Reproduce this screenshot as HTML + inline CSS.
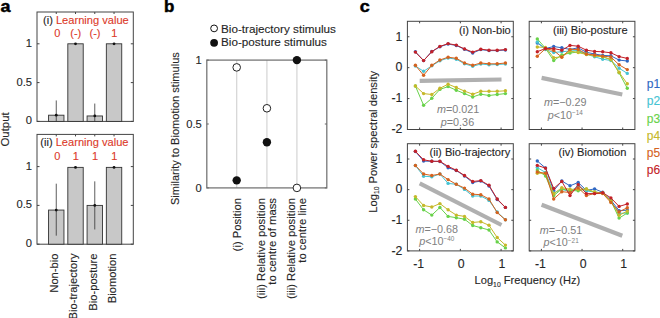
<!DOCTYPE html>
<html><head><meta charset="utf-8"><style>
html,body{margin:0;padding:0;background:#fff;}
svg{display:block;font-family:"Liberation Sans", sans-serif;}
</style></head><body>
<svg width="660" height="318" viewBox="0 0 660 318">
<rect width="660" height="318" fill="#fff"/>
<text transform="translate(0.6,12.2) scale(1.12,1)" font-size="16" font-weight="bold" fill="#000" stroke="#000" stroke-width="0.45">a</text>
<text transform="translate(164.0,11.8) scale(1.02,1)" font-size="16.6" font-weight="bold" fill="#000" stroke="#000" stroke-width="0.45">b</text>
<text transform="translate(359.8,12.0) scale(1.12,1)" font-size="16" font-weight="bold" fill="#000" stroke="#000" stroke-width="0.45">c</text>
<rect x="37" y="12" width="96.30000000000001" height="109.4" fill="none" stroke="#444" stroke-width="1"/>
<line x1="37" y1="121.4" x2="39.5" y2="121.4" stroke="#444" stroke-width="1" />
<line x1="133.3" y1="121.4" x2="130.8" y2="121.4" stroke="#444" stroke-width="1" />
<line x1="37" y1="82.6" x2="39.5" y2="82.6" stroke="#444" stroke-width="1" />
<line x1="133.3" y1="82.6" x2="130.8" y2="82.6" stroke="#444" stroke-width="1" />
<line x1="37" y1="43.8" x2="39.5" y2="43.8" stroke="#444" stroke-width="1" />
<line x1="133.3" y1="43.8" x2="130.8" y2="43.8" stroke="#444" stroke-width="1" />
<text x="32" y="124.4" font-size="11.2" text-anchor="end" fill="#262626" stroke="#262626" stroke-width="0.12" font-weight="normal" font-style="normal" >0</text>
<text x="32" y="85.6" font-size="11.2" text-anchor="end" fill="#262626" stroke="#262626" stroke-width="0.12" font-weight="normal" font-style="normal" >0.5</text>
<text x="32" y="46.8" font-size="11.2" text-anchor="end" fill="#262626" stroke="#262626" stroke-width="0.12" font-weight="normal" font-style="normal" >1</text>
<line x1="56.260000000000005" y1="12" x2="56.260000000000005" y2="14" stroke="#444" stroke-width="1" />
<rect x="48.56" y="115.19200000000001" width="15.4" height="6.207999999999998" fill="#c8c8c8" stroke="#333" stroke-width="0.9"/>
<line x1="56.260000000000005" y1="121.4" x2="56.260000000000005" y2="100.44800000000001" stroke="#333" stroke-width="0.8" />
<circle cx="56.260000000000005" cy="115.19200000000001" r="1.4" fill="#111" stroke="none" stroke-width="1"/>
<line x1="75.52000000000001" y1="12" x2="75.52000000000001" y2="14" stroke="#444" stroke-width="1" />
<rect x="67.82000000000001" y="43.8" width="15.4" height="77.60000000000001" fill="#c8c8c8" stroke="#333" stroke-width="0.9"/>
<circle cx="75.52000000000001" cy="43.8" r="1.4" fill="#111" stroke="none" stroke-width="1"/>
<line x1="94.78" y1="12" x2="94.78" y2="14" stroke="#444" stroke-width="1" />
<rect x="87.08" y="115.968" width="15.4" height="5.432000000000002" fill="#c8c8c8" stroke="#333" stroke-width="0.9"/>
<line x1="94.78" y1="121.4" x2="94.78" y2="103.552" stroke="#333" stroke-width="0.8" />
<circle cx="94.78" cy="115.968" r="1.4" fill="#111" stroke="none" stroke-width="1"/>
<line x1="114.04" y1="12" x2="114.04" y2="14" stroke="#444" stroke-width="1" />
<rect x="106.34" y="43.8" width="15.4" height="77.60000000000001" fill="#c8c8c8" stroke="#333" stroke-width="0.9"/>
<circle cx="114.04" cy="43.8" r="1.4" fill="#111" stroke="none" stroke-width="1"/>
<text x="43.0" y="24" font-size="11.1" fill="#262626" stroke="#262626" stroke-width="0.12">(i) <tspan fill="#dc3b2b" stroke="#dc3b2b">Learning value</tspan></text>
<text x="57.260000000000005" y="37.2" font-size="11" text-anchor="middle" fill="#dc3b2b" stroke="#dc3b2b" stroke-width="0.12" font-weight="normal" font-style="normal" >0</text>
<text x="75.72000000000001" y="37.2" font-size="11" text-anchor="middle" fill="#dc3b2b" stroke="#dc3b2b" stroke-width="0.12" font-weight="normal" font-style="normal" >(-)</text>
<text x="94.98" y="37.2" font-size="11" text-anchor="middle" fill="#dc3b2b" stroke="#dc3b2b" stroke-width="0.12" font-weight="normal" font-style="normal" >(-)</text>
<text x="114.24000000000001" y="37.2" font-size="11" text-anchor="middle" fill="#dc3b2b" stroke="#dc3b2b" stroke-width="0.12" font-weight="normal" font-style="normal" >1</text>
<rect x="37" y="134.4" width="96.30000000000001" height="109.79999999999998" fill="none" stroke="#444" stroke-width="1"/>
<line x1="37" y1="244.2" x2="39.5" y2="244.2" stroke="#444" stroke-width="1" />
<line x1="133.3" y1="244.2" x2="130.8" y2="244.2" stroke="#444" stroke-width="1" />
<line x1="37" y1="205.39999999999998" x2="39.5" y2="205.39999999999998" stroke="#444" stroke-width="1" />
<line x1="133.3" y1="205.39999999999998" x2="130.8" y2="205.39999999999998" stroke="#444" stroke-width="1" />
<line x1="37" y1="166.6" x2="39.5" y2="166.6" stroke="#444" stroke-width="1" />
<line x1="133.3" y1="166.6" x2="130.8" y2="166.6" stroke="#444" stroke-width="1" />
<text x="32" y="247.2" font-size="11.2" text-anchor="end" fill="#262626" stroke="#262626" stroke-width="0.12" font-weight="normal" font-style="normal" >0</text>
<text x="32" y="208.39999999999998" font-size="11.2" text-anchor="end" fill="#262626" stroke="#262626" stroke-width="0.12" font-weight="normal" font-style="normal" >0.5</text>
<text x="32" y="169.6" font-size="11.2" text-anchor="end" fill="#262626" stroke="#262626" stroke-width="0.12" font-weight="normal" font-style="normal" >1</text>
<line x1="56.260000000000005" y1="134.4" x2="56.260000000000005" y2="136.4" stroke="#444" stroke-width="1" />
<rect x="48.56" y="210.05599999999998" width="15.4" height="34.144000000000005" fill="#c8c8c8" stroke="#333" stroke-width="0.9"/>
<line x1="56.260000000000005" y1="235.664" x2="56.260000000000005" y2="183.672" stroke="#333" stroke-width="0.8" />
<circle cx="56.260000000000005" cy="210.05599999999998" r="1.4" fill="#111" stroke="none" stroke-width="1"/>
<line x1="75.52000000000001" y1="134.4" x2="75.52000000000001" y2="136.4" stroke="#444" stroke-width="1" />
<rect x="67.82000000000001" y="167.37599999999998" width="15.4" height="76.82400000000001" fill="#c8c8c8" stroke="#333" stroke-width="0.9"/>
<circle cx="75.52000000000001" cy="167.37599999999998" r="1.4" fill="#111" stroke="none" stroke-width="1"/>
<line x1="94.78" y1="134.4" x2="94.78" y2="136.4" stroke="#444" stroke-width="1" />
<rect x="87.08" y="205.39999999999998" width="15.4" height="38.80000000000001" fill="#c8c8c8" stroke="#333" stroke-width="0.9"/>
<line x1="94.78" y1="229.456" x2="94.78" y2="181.344" stroke="#333" stroke-width="0.8" />
<circle cx="94.78" cy="205.39999999999998" r="1.4" fill="#111" stroke="none" stroke-width="1"/>
<line x1="114.04" y1="134.4" x2="114.04" y2="136.4" stroke="#444" stroke-width="1" />
<rect x="106.34" y="167.37599999999998" width="15.4" height="76.82400000000001" fill="#c8c8c8" stroke="#333" stroke-width="0.9"/>
<circle cx="114.04" cy="167.37599999999998" r="1.4" fill="#111" stroke="none" stroke-width="1"/>
<text x="40.3" y="146.4" font-size="11.1" fill="#262626" stroke="#262626" stroke-width="0.12">(ii) <tspan fill="#dc3b2b" stroke="#dc3b2b">Learning value</tspan></text>
<text x="57.260000000000005" y="159.6" font-size="11" text-anchor="middle" fill="#dc3b2b" stroke="#dc3b2b" stroke-width="0.12" font-weight="normal" font-style="normal" >0</text>
<text x="75.72000000000001" y="159.6" font-size="11" text-anchor="middle" fill="#dc3b2b" stroke="#dc3b2b" stroke-width="0.12" font-weight="normal" font-style="normal" >1</text>
<text x="94.98" y="159.6" font-size="11" text-anchor="middle" fill="#dc3b2b" stroke="#dc3b2b" stroke-width="0.12" font-weight="normal" font-style="normal" >1</text>
<text x="114.24000000000001" y="159.6" font-size="11" text-anchor="middle" fill="#dc3b2b" stroke="#dc3b2b" stroke-width="0.12" font-weight="normal" font-style="normal" >1</text>
<text transform="translate(8.9,129.4) rotate(-90)" font-size="11.4" text-anchor="middle" fill="#262626" stroke="#262626" stroke-width="0.12">Output</text>
<text transform="translate(58.06,253.5) rotate(-90)" font-size="11.2" text-anchor="end" fill="#262626" stroke="#262626" stroke-width="0.12">Non-bio</text>
<text transform="translate(77.32000000000001,253.5) rotate(-90)" font-size="11.2" text-anchor="end" fill="#262626" stroke="#262626" stroke-width="0.12">Bio-trajectory</text>
<text transform="translate(96.58,253.5) rotate(-90)" font-size="11.2" text-anchor="end" fill="#262626" stroke="#262626" stroke-width="0.12">Bio-posture</text>
<text transform="translate(115.84,253.5) rotate(-90)" font-size="11.2" text-anchor="end" fill="#262626" stroke="#262626" stroke-width="0.12">Biomotion</text>
<circle cx="214.1" cy="28.4" r="3.4" fill="#fff" stroke="#111" stroke-width="1"/>
<text x="221" y="32.7" font-size="11.7" text-anchor="start" fill="#262626" stroke="#262626" stroke-width="0.12" font-weight="normal" font-style="normal" >Bio-trajectory stimulus</text>
<circle cx="214.1" cy="42.8" r="3.9" fill="#111" stroke="none" stroke-width="1"/>
<text x="221" y="46.4" font-size="11.7" text-anchor="start" fill="#262626" stroke="#262626" stroke-width="0.12" font-weight="normal" font-style="normal" >Bio-posture stimulus</text>
<line x1="236.7" y1="60.1" x2="236.7" y2="187.9" stroke="#d4d4d4" stroke-width="1.2" />
<line x1="266.9" y1="60.1" x2="266.9" y2="187.9" stroke="#d4d4d4" stroke-width="1.2" />
<line x1="296.9" y1="60.1" x2="296.9" y2="187.9" stroke="#d4d4d4" stroke-width="1.2" />
<rect x="206.8" y="60.1" width="120.0" height="127.80000000000001" fill="none" stroke="#777" stroke-width="1.3"/>
<text x="201.8" y="191.70000000000002" font-size="11.2" text-anchor="end" fill="#262626" stroke="#262626" stroke-width="0.12" font-weight="normal" font-style="normal" >0</text>
<line x1="206.8" y1="187.9" x2="208.8" y2="187.9" stroke="#666" stroke-width="1" />
<line x1="326.8" y1="187.9" x2="324.8" y2="187.9" stroke="#666" stroke-width="1" />
<text x="201.8" y="127.8" font-size="11.2" text-anchor="end" fill="#262626" stroke="#262626" stroke-width="0.12" font-weight="normal" font-style="normal" >0.5</text>
<line x1="206.8" y1="124.0" x2="208.8" y2="124.0" stroke="#666" stroke-width="1" />
<line x1="326.8" y1="124.0" x2="324.8" y2="124.0" stroke="#666" stroke-width="1" />
<text x="201.8" y="63.89999999999999" font-size="11.2" text-anchor="end" fill="#262626" stroke="#262626" stroke-width="0.12" font-weight="normal" font-style="normal" >1</text>
<line x1="206.8" y1="60.099999999999994" x2="208.8" y2="60.099999999999994" stroke="#666" stroke-width="1" />
<line x1="326.8" y1="60.099999999999994" x2="324.8" y2="60.099999999999994" stroke="#666" stroke-width="1" />
<circle cx="236.7" cy="67.3846" r="3.8" fill="#fff" stroke="#222" stroke-width="1"/>
<circle cx="236.7" cy="180.3598" r="4.2" fill="#111" stroke="none" stroke-width="1"/>
<circle cx="266.9" cy="108.28059999999999" r="3.8" fill="#fff" stroke="#222" stroke-width="1"/>
<circle cx="266.9" cy="142.2754" r="4.2" fill="#111" stroke="none" stroke-width="1"/>
<circle cx="296.9" cy="60.099999999999994" r="4.2" fill="#111" stroke="none" stroke-width="1"/>
<circle cx="296.9" cy="187.9" r="3.8" fill="#fff" stroke="#222" stroke-width="1"/>
<text transform="translate(178.6,128.6) rotate(-90)" font-size="11.05" text-anchor="middle" fill="#262626" stroke="#262626" stroke-width="0.12">Similarity to Biomotion stimulus</text>
<text transform="translate(240.6,198) rotate(-90)" font-size="11.3" text-anchor="end" fill="#262626" stroke="#262626" stroke-width="0.12">(i) Position</text>
<text transform="translate(265.2,198) rotate(-90)" font-size="11.3" text-anchor="end" fill="#262626" stroke="#262626" stroke-width="0.12">(iii) Relative position</text>
<text transform="translate(275.6,198) rotate(-90)" font-size="11.3" text-anchor="end" fill="#262626" stroke="#262626" stroke-width="0.12">to centre of mass</text>
<text transform="translate(295.2,198) rotate(-90)" font-size="11.3" text-anchor="end" fill="#262626" stroke="#262626" stroke-width="0.12">(iii) Relative position</text>
<text transform="translate(305.6,198) rotate(-90)" font-size="11.3" text-anchor="end" fill="#262626" stroke="#262626" stroke-width="0.12">to centre line</text>
<rect x="407.4" y="21.3" width="105.89999999999998" height="108.2" fill="none" stroke="#444" stroke-width="1"/>
<line x1="419.61923076923074" y1="129.5" x2="419.61923076923074" y2="127.5" stroke="#444" stroke-width="1" />
<line x1="419.61923076923074" y1="21.3" x2="419.61923076923074" y2="23.3" stroke="#444" stroke-width="1" />
<line x1="460.34999999999997" y1="129.5" x2="460.34999999999997" y2="127.5" stroke="#444" stroke-width="1" />
<line x1="460.34999999999997" y1="21.3" x2="460.34999999999997" y2="23.3" stroke="#444" stroke-width="1" />
<line x1="501.0807692307692" y1="129.5" x2="501.0807692307692" y2="127.5" stroke="#444" stroke-width="1" />
<line x1="501.0807692307692" y1="21.3" x2="501.0807692307692" y2="23.3" stroke="#444" stroke-width="1" />
<line x1="407.4" y1="129.5" x2="409.4" y2="129.5" stroke="#444" stroke-width="1" />
<line x1="513.3" y1="129.5" x2="511.29999999999995" y2="129.5" stroke="#444" stroke-width="1" />
<text x="402.4" y="133.25" font-size="12.3" text-anchor="end" fill="#262626" stroke="#262626" stroke-width="0.12" font-weight="normal" font-style="normal" >-2</text>
<line x1="407.4" y1="98.58571428571429" x2="409.4" y2="98.58571428571429" stroke="#444" stroke-width="1" />
<line x1="513.3" y1="98.58571428571429" x2="511.29999999999995" y2="98.58571428571429" stroke="#444" stroke-width="1" />
<text x="402.4" y="102.33571428571429" font-size="12.3" text-anchor="end" fill="#262626" stroke="#262626" stroke-width="0.12" font-weight="normal" font-style="normal" >-1</text>
<line x1="407.4" y1="67.67142857142858" x2="409.4" y2="67.67142857142858" stroke="#444" stroke-width="1" />
<line x1="513.3" y1="67.67142857142858" x2="511.29999999999995" y2="67.67142857142858" stroke="#444" stroke-width="1" />
<text x="402.4" y="71.42142857142858" font-size="12.3" text-anchor="end" fill="#262626" stroke="#262626" stroke-width="0.12" font-weight="normal" font-style="normal" >0</text>
<line x1="407.4" y1="36.75714285714287" x2="409.4" y2="36.75714285714287" stroke="#444" stroke-width="1" />
<line x1="513.3" y1="36.75714285714287" x2="511.29999999999995" y2="36.75714285714287" stroke="#444" stroke-width="1" />
<text x="402.4" y="40.50714285714287" font-size="12.3" text-anchor="end" fill="#262626" stroke="#262626" stroke-width="0.12" font-weight="normal" font-style="normal" >1</text>
<text x="459" y="33.9" font-size="11.1" text-anchor="start" fill="#262626" stroke="#262626" stroke-width="0.12" font-weight="normal" font-style="normal" >(i) Non-bio</text>
<line x1="419.7" y1="80.8" x2="501.5" y2="79.5" stroke="#b0b0b0" stroke-width="4.2" />
<text x="437" y="113.3" font-size="10.8" fill="#808080"><tspan font-style="italic">m</tspan>=0.021</text>
<text x="440.8" y="125.6" font-size="10.8" fill="#808080"><tspan font-style="italic">p</tspan>=0.36<tspan font-size="6.4" dy="-3.6"></tspan></text>
<polyline points="415.4,51.8 423.6,60.6 431.8,51.5 439.9,46.8 448.1,44.0 456.3,45.5 464.5,49.3 472.7,53.0 480.8,49.6 489.0,50.6 497.2,50.6 505.4,50.0" fill="none" stroke="#2f67c3" stroke-width="1"/>
<circle cx="415.4" cy="51.8" r="1.7" fill="#2f67c3" stroke="none" stroke-width="1"/>
<circle cx="423.6" cy="60.6" r="1.7" fill="#2f67c3" stroke="none" stroke-width="1"/>
<circle cx="431.8" cy="51.5" r="1.7" fill="#2f67c3" stroke="none" stroke-width="1"/>
<circle cx="439.9" cy="46.8" r="1.7" fill="#2f67c3" stroke="none" stroke-width="1"/>
<circle cx="448.1" cy="44.0" r="1.7" fill="#2f67c3" stroke="none" stroke-width="1"/>
<circle cx="456.3" cy="45.5" r="1.7" fill="#2f67c3" stroke="none" stroke-width="1"/>
<circle cx="464.5" cy="49.3" r="1.7" fill="#2f67c3" stroke="none" stroke-width="1"/>
<circle cx="472.7" cy="53.0" r="1.7" fill="#2f67c3" stroke="none" stroke-width="1"/>
<circle cx="480.8" cy="49.6" r="1.7" fill="#2f67c3" stroke="none" stroke-width="1"/>
<circle cx="489.0" cy="50.6" r="1.7" fill="#2f67c3" stroke="none" stroke-width="1"/>
<circle cx="497.2" cy="50.6" r="1.7" fill="#2f67c3" stroke="none" stroke-width="1"/>
<circle cx="505.4" cy="50.0" r="1.7" fill="#2f67c3" stroke="none" stroke-width="1"/>
<polyline points="415.4,66.0 423.6,71.3 431.8,65.8 439.9,60.8 448.1,58.0 456.3,59.2 464.5,63.8 472.7,66.3 480.8,64.0 489.0,64.8 497.2,64.5 505.4,64.0" fill="none" stroke="#45c3d3" stroke-width="1"/>
<circle cx="415.4" cy="66.0" r="1.7" fill="#45c3d3" stroke="none" stroke-width="1"/>
<circle cx="423.6" cy="71.3" r="1.7" fill="#45c3d3" stroke="none" stroke-width="1"/>
<circle cx="431.8" cy="65.8" r="1.7" fill="#45c3d3" stroke="none" stroke-width="1"/>
<circle cx="439.9" cy="60.8" r="1.7" fill="#45c3d3" stroke="none" stroke-width="1"/>
<circle cx="448.1" cy="58.0" r="1.7" fill="#45c3d3" stroke="none" stroke-width="1"/>
<circle cx="456.3" cy="59.2" r="1.7" fill="#45c3d3" stroke="none" stroke-width="1"/>
<circle cx="464.5" cy="63.8" r="1.7" fill="#45c3d3" stroke="none" stroke-width="1"/>
<circle cx="472.7" cy="66.3" r="1.7" fill="#45c3d3" stroke="none" stroke-width="1"/>
<circle cx="480.8" cy="64.0" r="1.7" fill="#45c3d3" stroke="none" stroke-width="1"/>
<circle cx="489.0" cy="64.8" r="1.7" fill="#45c3d3" stroke="none" stroke-width="1"/>
<circle cx="497.2" cy="64.5" r="1.7" fill="#45c3d3" stroke="none" stroke-width="1"/>
<circle cx="505.4" cy="64.0" r="1.7" fill="#45c3d3" stroke="none" stroke-width="1"/>
<polyline points="415.4,86.0 423.6,105.3 431.8,98.3 439.9,89.4 448.1,86.6 456.3,90.2 464.5,93.6 472.7,97.0 480.8,94.2 489.0,95.5 497.2,94.5 505.4,93.6" fill="none" stroke="#68d24a" stroke-width="1"/>
<circle cx="415.4" cy="86.0" r="1.7" fill="#68d24a" stroke="none" stroke-width="1"/>
<circle cx="423.6" cy="105.3" r="1.7" fill="#68d24a" stroke="none" stroke-width="1"/>
<circle cx="431.8" cy="98.3" r="1.7" fill="#68d24a" stroke="none" stroke-width="1"/>
<circle cx="439.9" cy="89.4" r="1.7" fill="#68d24a" stroke="none" stroke-width="1"/>
<circle cx="448.1" cy="86.6" r="1.7" fill="#68d24a" stroke="none" stroke-width="1"/>
<circle cx="456.3" cy="90.2" r="1.7" fill="#68d24a" stroke="none" stroke-width="1"/>
<circle cx="464.5" cy="93.6" r="1.7" fill="#68d24a" stroke="none" stroke-width="1"/>
<circle cx="472.7" cy="97.0" r="1.7" fill="#68d24a" stroke="none" stroke-width="1"/>
<circle cx="480.8" cy="94.2" r="1.7" fill="#68d24a" stroke="none" stroke-width="1"/>
<circle cx="489.0" cy="95.5" r="1.7" fill="#68d24a" stroke="none" stroke-width="1"/>
<circle cx="497.2" cy="94.5" r="1.7" fill="#68d24a" stroke="none" stroke-width="1"/>
<circle cx="505.4" cy="93.6" r="1.7" fill="#68d24a" stroke="none" stroke-width="1"/>
<polyline points="415.4,86.0 423.6,93.6 431.8,94.5 439.9,88.3 448.1,84.2 456.3,87.5 464.5,91.1 472.7,94.2 480.8,91.3 489.0,91.3 497.2,91.3 505.4,90.8" fill="none" stroke="#c6b82a" stroke-width="1"/>
<circle cx="415.4" cy="86.0" r="1.7" fill="#c6b82a" stroke="none" stroke-width="1"/>
<circle cx="423.6" cy="93.6" r="1.7" fill="#c6b82a" stroke="none" stroke-width="1"/>
<circle cx="431.8" cy="94.5" r="1.7" fill="#c6b82a" stroke="none" stroke-width="1"/>
<circle cx="439.9" cy="88.3" r="1.7" fill="#c6b82a" stroke="none" stroke-width="1"/>
<circle cx="448.1" cy="84.2" r="1.7" fill="#c6b82a" stroke="none" stroke-width="1"/>
<circle cx="456.3" cy="87.5" r="1.7" fill="#c6b82a" stroke="none" stroke-width="1"/>
<circle cx="464.5" cy="91.1" r="1.7" fill="#c6b82a" stroke="none" stroke-width="1"/>
<circle cx="472.7" cy="94.2" r="1.7" fill="#c6b82a" stroke="none" stroke-width="1"/>
<circle cx="480.8" cy="91.3" r="1.7" fill="#c6b82a" stroke="none" stroke-width="1"/>
<circle cx="489.0" cy="91.3" r="1.7" fill="#c6b82a" stroke="none" stroke-width="1"/>
<circle cx="497.2" cy="91.3" r="1.7" fill="#c6b82a" stroke="none" stroke-width="1"/>
<circle cx="505.4" cy="90.8" r="1.7" fill="#c6b82a" stroke="none" stroke-width="1"/>
<polyline points="415.4,65.3 423.6,75.3 431.8,65.3 439.9,60.0 448.1,57.2 456.3,58.3 464.5,63.0 472.7,65.3 480.8,63.0 489.0,63.8 497.2,63.8 505.4,63.0" fill="none" stroke="#d5621e" stroke-width="1"/>
<circle cx="415.4" cy="65.3" r="1.7" fill="#d5621e" stroke="none" stroke-width="1"/>
<circle cx="423.6" cy="75.3" r="1.7" fill="#d5621e" stroke="none" stroke-width="1"/>
<circle cx="431.8" cy="65.3" r="1.7" fill="#d5621e" stroke="none" stroke-width="1"/>
<circle cx="439.9" cy="60.0" r="1.7" fill="#d5621e" stroke="none" stroke-width="1"/>
<circle cx="448.1" cy="57.2" r="1.7" fill="#d5621e" stroke="none" stroke-width="1"/>
<circle cx="456.3" cy="58.3" r="1.7" fill="#d5621e" stroke="none" stroke-width="1"/>
<circle cx="464.5" cy="63.0" r="1.7" fill="#d5621e" stroke="none" stroke-width="1"/>
<circle cx="472.7" cy="65.3" r="1.7" fill="#d5621e" stroke="none" stroke-width="1"/>
<circle cx="480.8" cy="63.0" r="1.7" fill="#d5621e" stroke="none" stroke-width="1"/>
<circle cx="489.0" cy="63.8" r="1.7" fill="#d5621e" stroke="none" stroke-width="1"/>
<circle cx="497.2" cy="63.8" r="1.7" fill="#d5621e" stroke="none" stroke-width="1"/>
<circle cx="505.4" cy="63.0" r="1.7" fill="#d5621e" stroke="none" stroke-width="1"/>
<polyline points="415.4,52.1 423.6,60.6 431.8,51.7 439.9,46.4 448.1,43.6 456.3,45.1 464.5,48.9 472.7,52.1 480.8,49.2 489.0,50.2 497.2,50.2 505.4,49.6" fill="none" stroke="#c42128" stroke-width="1"/>
<circle cx="415.4" cy="52.1" r="1.7" fill="#c42128" stroke="none" stroke-width="1"/>
<circle cx="423.6" cy="60.6" r="1.7" fill="#c42128" stroke="none" stroke-width="1"/>
<circle cx="431.8" cy="51.7" r="1.7" fill="#c42128" stroke="none" stroke-width="1"/>
<circle cx="439.9" cy="46.4" r="1.7" fill="#c42128" stroke="none" stroke-width="1"/>
<circle cx="448.1" cy="43.6" r="1.7" fill="#c42128" stroke="none" stroke-width="1"/>
<circle cx="456.3" cy="45.1" r="1.7" fill="#c42128" stroke="none" stroke-width="1"/>
<circle cx="464.5" cy="48.9" r="1.7" fill="#c42128" stroke="none" stroke-width="1"/>
<circle cx="472.7" cy="52.1" r="1.7" fill="#c42128" stroke="none" stroke-width="1"/>
<circle cx="480.8" cy="49.2" r="1.7" fill="#c42128" stroke="none" stroke-width="1"/>
<circle cx="489.0" cy="50.2" r="1.7" fill="#c42128" stroke="none" stroke-width="1"/>
<circle cx="497.2" cy="50.2" r="1.7" fill="#c42128" stroke="none" stroke-width="1"/>
<circle cx="505.4" cy="49.6" r="1.7" fill="#c42128" stroke="none" stroke-width="1"/>
<rect x="529.2" y="21.3" width="105.69999999999993" height="108.2" fill="none" stroke="#444" stroke-width="1"/>
<line x1="541.3961538461539" y1="129.5" x2="541.3961538461539" y2="127.5" stroke="#444" stroke-width="1" />
<line x1="541.3961538461539" y1="21.3" x2="541.3961538461539" y2="23.3" stroke="#444" stroke-width="1" />
<line x1="582.05" y1="129.5" x2="582.05" y2="127.5" stroke="#444" stroke-width="1" />
<line x1="582.05" y1="21.3" x2="582.05" y2="23.3" stroke="#444" stroke-width="1" />
<line x1="622.703846153846" y1="129.5" x2="622.703846153846" y2="127.5" stroke="#444" stroke-width="1" />
<line x1="622.703846153846" y1="21.3" x2="622.703846153846" y2="23.3" stroke="#444" stroke-width="1" />
<line x1="529.2" y1="129.5" x2="531.2" y2="129.5" stroke="#444" stroke-width="1" />
<line x1="634.9" y1="129.5" x2="632.9" y2="129.5" stroke="#444" stroke-width="1" />
<line x1="529.2" y1="98.58571428571429" x2="531.2" y2="98.58571428571429" stroke="#444" stroke-width="1" />
<line x1="634.9" y1="98.58571428571429" x2="632.9" y2="98.58571428571429" stroke="#444" stroke-width="1" />
<line x1="529.2" y1="67.67142857142858" x2="531.2" y2="67.67142857142858" stroke="#444" stroke-width="1" />
<line x1="634.9" y1="67.67142857142858" x2="632.9" y2="67.67142857142858" stroke="#444" stroke-width="1" />
<line x1="529.2" y1="36.75714285714287" x2="531.2" y2="36.75714285714287" stroke="#444" stroke-width="1" />
<line x1="634.9" y1="36.75714285714287" x2="632.9" y2="36.75714285714287" stroke="#444" stroke-width="1" />
<text x="553" y="33.9" font-size="11.1" text-anchor="start" fill="#262626" stroke="#262626" stroke-width="0.12" font-weight="normal" font-style="normal" >(iii) Bio-posture</text>
<line x1="541.6" y1="77.9" x2="622.3" y2="94.5" stroke="#b0b0b0" stroke-width="4.2" />
<text x="543.9" y="106.3" font-size="10.8" fill="#808080"><tspan font-style="italic">m</tspan>=−0.29</text>
<text x="547.6999999999999" y="118.6" font-size="10.8" fill="#808080"><tspan font-style="italic">p</tspan>&lt;10<tspan font-size="6.4" dy="-3.6">−14</tspan></text>
<polyline points="537.3,43.0 545.5,48.5 553.7,46.5 561.8,47.8 570.0,49.4 578.2,47.8 586.4,52.3 594.6,54.0 602.7,55.4 610.9,55.8 619.1,60.1 627.3,61.0" fill="none" stroke="#2f67c3" stroke-width="1"/>
<circle cx="537.3" cy="43.0" r="1.7" fill="#2f67c3" stroke="none" stroke-width="1"/>
<circle cx="545.5" cy="48.5" r="1.7" fill="#2f67c3" stroke="none" stroke-width="1"/>
<circle cx="553.7" cy="46.5" r="1.7" fill="#2f67c3" stroke="none" stroke-width="1"/>
<circle cx="561.8" cy="47.8" r="1.7" fill="#2f67c3" stroke="none" stroke-width="1"/>
<circle cx="570.0" cy="49.4" r="1.7" fill="#2f67c3" stroke="none" stroke-width="1"/>
<circle cx="578.2" cy="47.8" r="1.7" fill="#2f67c3" stroke="none" stroke-width="1"/>
<circle cx="586.4" cy="52.3" r="1.7" fill="#2f67c3" stroke="none" stroke-width="1"/>
<circle cx="594.6" cy="54.0" r="1.7" fill="#2f67c3" stroke="none" stroke-width="1"/>
<circle cx="602.7" cy="55.4" r="1.7" fill="#2f67c3" stroke="none" stroke-width="1"/>
<circle cx="610.9" cy="55.8" r="1.7" fill="#2f67c3" stroke="none" stroke-width="1"/>
<circle cx="619.1" cy="60.1" r="1.7" fill="#2f67c3" stroke="none" stroke-width="1"/>
<circle cx="627.3" cy="61.0" r="1.7" fill="#2f67c3" stroke="none" stroke-width="1"/>
<polyline points="537.3,42.0 545.5,49.5 553.7,52.5 561.8,51.7 570.0,51.0 578.2,50.5 586.4,54.0 594.6,56.8 602.7,59.2 610.9,60.5 619.1,68.2 627.3,73.4" fill="none" stroke="#45c3d3" stroke-width="1"/>
<circle cx="537.3" cy="42.0" r="1.7" fill="#45c3d3" stroke="none" stroke-width="1"/>
<circle cx="545.5" cy="49.5" r="1.7" fill="#45c3d3" stroke="none" stroke-width="1"/>
<circle cx="553.7" cy="52.5" r="1.7" fill="#45c3d3" stroke="none" stroke-width="1"/>
<circle cx="561.8" cy="51.7" r="1.7" fill="#45c3d3" stroke="none" stroke-width="1"/>
<circle cx="570.0" cy="51.0" r="1.7" fill="#45c3d3" stroke="none" stroke-width="1"/>
<circle cx="578.2" cy="50.5" r="1.7" fill="#45c3d3" stroke="none" stroke-width="1"/>
<circle cx="586.4" cy="54.0" r="1.7" fill="#45c3d3" stroke="none" stroke-width="1"/>
<circle cx="594.6" cy="56.8" r="1.7" fill="#45c3d3" stroke="none" stroke-width="1"/>
<circle cx="602.7" cy="59.2" r="1.7" fill="#45c3d3" stroke="none" stroke-width="1"/>
<circle cx="610.9" cy="60.5" r="1.7" fill="#45c3d3" stroke="none" stroke-width="1"/>
<circle cx="619.1" cy="68.2" r="1.7" fill="#45c3d3" stroke="none" stroke-width="1"/>
<circle cx="627.3" cy="73.4" r="1.7" fill="#45c3d3" stroke="none" stroke-width="1"/>
<polyline points="537.3,38.9 545.5,48.3 553.7,60.6 561.8,54.9 570.0,53.0 578.2,52.0 586.4,54.0 594.6,55.8 602.7,56.8 610.9,59.6 619.1,72.8 627.3,88.3" fill="none" stroke="#68d24a" stroke-width="1"/>
<circle cx="537.3" cy="38.9" r="1.7" fill="#68d24a" stroke="none" stroke-width="1"/>
<circle cx="545.5" cy="48.3" r="1.7" fill="#68d24a" stroke="none" stroke-width="1"/>
<circle cx="553.7" cy="60.6" r="1.7" fill="#68d24a" stroke="none" stroke-width="1"/>
<circle cx="561.8" cy="54.9" r="1.7" fill="#68d24a" stroke="none" stroke-width="1"/>
<circle cx="570.0" cy="53.0" r="1.7" fill="#68d24a" stroke="none" stroke-width="1"/>
<circle cx="578.2" cy="52.0" r="1.7" fill="#68d24a" stroke="none" stroke-width="1"/>
<circle cx="586.4" cy="54.0" r="1.7" fill="#68d24a" stroke="none" stroke-width="1"/>
<circle cx="594.6" cy="55.8" r="1.7" fill="#68d24a" stroke="none" stroke-width="1"/>
<circle cx="602.7" cy="56.8" r="1.7" fill="#68d24a" stroke="none" stroke-width="1"/>
<circle cx="610.9" cy="59.6" r="1.7" fill="#68d24a" stroke="none" stroke-width="1"/>
<circle cx="619.1" cy="72.8" r="1.7" fill="#68d24a" stroke="none" stroke-width="1"/>
<circle cx="627.3" cy="88.3" r="1.7" fill="#68d24a" stroke="none" stroke-width="1"/>
<polyline points="537.3,47.0 545.5,47.4 553.7,57.7 561.8,56.8 570.0,51.1 578.2,52.5 586.4,54.5 594.6,55.8 602.7,56.8 610.9,59.6 619.1,72.3 627.3,83.8" fill="none" stroke="#c6b82a" stroke-width="1"/>
<circle cx="537.3" cy="47.0" r="1.7" fill="#c6b82a" stroke="none" stroke-width="1"/>
<circle cx="545.5" cy="47.4" r="1.7" fill="#c6b82a" stroke="none" stroke-width="1"/>
<circle cx="553.7" cy="57.7" r="1.7" fill="#c6b82a" stroke="none" stroke-width="1"/>
<circle cx="561.8" cy="56.8" r="1.7" fill="#c6b82a" stroke="none" stroke-width="1"/>
<circle cx="570.0" cy="51.1" r="1.7" fill="#c6b82a" stroke="none" stroke-width="1"/>
<circle cx="578.2" cy="52.5" r="1.7" fill="#c6b82a" stroke="none" stroke-width="1"/>
<circle cx="586.4" cy="54.5" r="1.7" fill="#c6b82a" stroke="none" stroke-width="1"/>
<circle cx="594.6" cy="55.8" r="1.7" fill="#c6b82a" stroke="none" stroke-width="1"/>
<circle cx="602.7" cy="56.8" r="1.7" fill="#c6b82a" stroke="none" stroke-width="1"/>
<circle cx="610.9" cy="59.6" r="1.7" fill="#c6b82a" stroke="none" stroke-width="1"/>
<circle cx="619.1" cy="72.3" r="1.7" fill="#c6b82a" stroke="none" stroke-width="1"/>
<circle cx="627.3" cy="83.8" r="1.7" fill="#c6b82a" stroke="none" stroke-width="1"/>
<polyline points="537.3,56.2 545.5,48.7 553.7,50.5 561.8,57.2 570.0,49.4 578.2,49.4 586.4,54.0 594.6,54.9 602.7,56.1 610.9,57.0 619.1,64.8 627.3,69.6" fill="none" stroke="#d5621e" stroke-width="1"/>
<circle cx="537.3" cy="56.2" r="1.7" fill="#d5621e" stroke="none" stroke-width="1"/>
<circle cx="545.5" cy="48.7" r="1.7" fill="#d5621e" stroke="none" stroke-width="1"/>
<circle cx="553.7" cy="50.5" r="1.7" fill="#d5621e" stroke="none" stroke-width="1"/>
<circle cx="561.8" cy="57.2" r="1.7" fill="#d5621e" stroke="none" stroke-width="1"/>
<circle cx="570.0" cy="49.4" r="1.7" fill="#d5621e" stroke="none" stroke-width="1"/>
<circle cx="578.2" cy="49.4" r="1.7" fill="#d5621e" stroke="none" stroke-width="1"/>
<circle cx="586.4" cy="54.0" r="1.7" fill="#d5621e" stroke="none" stroke-width="1"/>
<circle cx="594.6" cy="54.9" r="1.7" fill="#d5621e" stroke="none" stroke-width="1"/>
<circle cx="602.7" cy="56.1" r="1.7" fill="#d5621e" stroke="none" stroke-width="1"/>
<circle cx="610.9" cy="57.0" r="1.7" fill="#d5621e" stroke="none" stroke-width="1"/>
<circle cx="619.1" cy="64.8" r="1.7" fill="#d5621e" stroke="none" stroke-width="1"/>
<circle cx="627.3" cy="69.6" r="1.7" fill="#d5621e" stroke="none" stroke-width="1"/>
<polyline points="537.3,51.7 545.5,48.5 553.7,48.6 561.8,50.2 570.0,45.4 578.2,46.2 586.4,50.2 594.6,51.4 602.7,51.8 610.9,52.8 619.1,56.6 627.3,58.4" fill="none" stroke="#c42128" stroke-width="1"/>
<circle cx="537.3" cy="51.7" r="1.7" fill="#c42128" stroke="none" stroke-width="1"/>
<circle cx="545.5" cy="48.5" r="1.7" fill="#c42128" stroke="none" stroke-width="1"/>
<circle cx="553.7" cy="48.6" r="1.7" fill="#c42128" stroke="none" stroke-width="1"/>
<circle cx="561.8" cy="50.2" r="1.7" fill="#c42128" stroke="none" stroke-width="1"/>
<circle cx="570.0" cy="45.4" r="1.7" fill="#c42128" stroke="none" stroke-width="1"/>
<circle cx="578.2" cy="46.2" r="1.7" fill="#c42128" stroke="none" stroke-width="1"/>
<circle cx="586.4" cy="50.2" r="1.7" fill="#c42128" stroke="none" stroke-width="1"/>
<circle cx="594.6" cy="51.4" r="1.7" fill="#c42128" stroke="none" stroke-width="1"/>
<circle cx="602.7" cy="51.8" r="1.7" fill="#c42128" stroke="none" stroke-width="1"/>
<circle cx="610.9" cy="52.8" r="1.7" fill="#c42128" stroke="none" stroke-width="1"/>
<circle cx="619.1" cy="56.6" r="1.7" fill="#c42128" stroke="none" stroke-width="1"/>
<circle cx="627.3" cy="58.4" r="1.7" fill="#c42128" stroke="none" stroke-width="1"/>
<rect x="407.4" y="143.7" width="105.89999999999998" height="107.20000000000002" fill="none" stroke="#444" stroke-width="1"/>
<line x1="419.61923076923074" y1="250.9" x2="419.61923076923074" y2="248.9" stroke="#444" stroke-width="1" />
<line x1="419.61923076923074" y1="143.7" x2="419.61923076923074" y2="145.7" stroke="#444" stroke-width="1" />
<line x1="460.34999999999997" y1="250.9" x2="460.34999999999997" y2="248.9" stroke="#444" stroke-width="1" />
<line x1="460.34999999999997" y1="143.7" x2="460.34999999999997" y2="145.7" stroke="#444" stroke-width="1" />
<line x1="501.0807692307692" y1="250.9" x2="501.0807692307692" y2="248.9" stroke="#444" stroke-width="1" />
<line x1="501.0807692307692" y1="143.7" x2="501.0807692307692" y2="145.7" stroke="#444" stroke-width="1" />
<line x1="407.4" y1="250.9" x2="409.4" y2="250.9" stroke="#444" stroke-width="1" />
<line x1="513.3" y1="250.9" x2="511.29999999999995" y2="250.9" stroke="#444" stroke-width="1" />
<text x="402.4" y="254.65" font-size="12.3" text-anchor="end" fill="#262626" stroke="#262626" stroke-width="0.12" font-weight="normal" font-style="normal" >-2</text>
<line x1="407.4" y1="220.27142857142857" x2="409.4" y2="220.27142857142857" stroke="#444" stroke-width="1" />
<line x1="513.3" y1="220.27142857142857" x2="511.29999999999995" y2="220.27142857142857" stroke="#444" stroke-width="1" />
<text x="402.4" y="224.02142857142857" font-size="12.3" text-anchor="end" fill="#262626" stroke="#262626" stroke-width="0.12" font-weight="normal" font-style="normal" >-1</text>
<line x1="407.4" y1="189.64285714285714" x2="409.4" y2="189.64285714285714" stroke="#444" stroke-width="1" />
<line x1="513.3" y1="189.64285714285714" x2="511.29999999999995" y2="189.64285714285714" stroke="#444" stroke-width="1" />
<text x="402.4" y="193.39285714285714" font-size="12.3" text-anchor="end" fill="#262626" stroke="#262626" stroke-width="0.12" font-weight="normal" font-style="normal" >0</text>
<line x1="407.4" y1="159.0142857142857" x2="409.4" y2="159.0142857142857" stroke="#444" stroke-width="1" />
<line x1="513.3" y1="159.0142857142857" x2="511.29999999999995" y2="159.0142857142857" stroke="#444" stroke-width="1" />
<text x="402.4" y="162.7642857142857" font-size="12.3" text-anchor="end" fill="#262626" stroke="#262626" stroke-width="0.12" font-weight="normal" font-style="normal" >1</text>
<text x="429.5" y="156.29999999999998" font-size="11.1" text-anchor="start" fill="#262626" stroke="#262626" stroke-width="0.12" font-weight="normal" font-style="normal" >(ii) Bio-trajectory</text>
<line x1="419.7" y1="183.4" x2="501.5" y2="225.0" stroke="#b0b0b0" stroke-width="4.2" />
<text x="415.4" y="232.70000000000002" font-size="10.8" fill="#808080"><tspan font-style="italic">m</tspan>=−0.68</text>
<text x="419.2" y="245.0" font-size="10.8" fill="#808080"><tspan font-style="italic">p</tspan>&lt;10<tspan font-size="6.4" dy="-3.6">−40</tspan></text>
<polyline points="415.4,151.5 423.6,161.1 431.8,161.3 439.9,161.5 448.1,167.7 456.3,170.5 464.5,176.0 472.7,182.5 480.8,181.0 489.0,186.0 497.2,199.5 505.4,207.4" fill="none" stroke="#2f67c3" stroke-width="1"/>
<circle cx="415.4" cy="151.5" r="1.7" fill="#2f67c3" stroke="none" stroke-width="1"/>
<circle cx="423.6" cy="161.1" r="1.7" fill="#2f67c3" stroke="none" stroke-width="1"/>
<circle cx="431.8" cy="161.3" r="1.7" fill="#2f67c3" stroke="none" stroke-width="1"/>
<circle cx="439.9" cy="161.5" r="1.7" fill="#2f67c3" stroke="none" stroke-width="1"/>
<circle cx="448.1" cy="167.7" r="1.7" fill="#2f67c3" stroke="none" stroke-width="1"/>
<circle cx="456.3" cy="170.5" r="1.7" fill="#2f67c3" stroke="none" stroke-width="1"/>
<circle cx="464.5" cy="176.0" r="1.7" fill="#2f67c3" stroke="none" stroke-width="1"/>
<circle cx="472.7" cy="182.5" r="1.7" fill="#2f67c3" stroke="none" stroke-width="1"/>
<circle cx="480.8" cy="181.0" r="1.7" fill="#2f67c3" stroke="none" stroke-width="1"/>
<circle cx="489.0" cy="186.0" r="1.7" fill="#2f67c3" stroke="none" stroke-width="1"/>
<circle cx="497.2" cy="199.5" r="1.7" fill="#2f67c3" stroke="none" stroke-width="1"/>
<circle cx="505.4" cy="207.4" r="1.7" fill="#2f67c3" stroke="none" stroke-width="1"/>
<polyline points="415.4,165.5 423.6,176.2 431.8,176.8 439.9,174.0 448.1,183.4 456.3,184.3 464.5,189.4 472.7,196.0 480.8,196.0 489.0,200.4 497.2,212.0 505.4,219.8" fill="none" stroke="#45c3d3" stroke-width="1"/>
<circle cx="415.4" cy="165.5" r="1.7" fill="#45c3d3" stroke="none" stroke-width="1"/>
<circle cx="423.6" cy="176.2" r="1.7" fill="#45c3d3" stroke="none" stroke-width="1"/>
<circle cx="431.8" cy="176.8" r="1.7" fill="#45c3d3" stroke="none" stroke-width="1"/>
<circle cx="439.9" cy="174.0" r="1.7" fill="#45c3d3" stroke="none" stroke-width="1"/>
<circle cx="448.1" cy="183.4" r="1.7" fill="#45c3d3" stroke="none" stroke-width="1"/>
<circle cx="456.3" cy="184.3" r="1.7" fill="#45c3d3" stroke="none" stroke-width="1"/>
<circle cx="464.5" cy="189.4" r="1.7" fill="#45c3d3" stroke="none" stroke-width="1"/>
<circle cx="472.7" cy="196.0" r="1.7" fill="#45c3d3" stroke="none" stroke-width="1"/>
<circle cx="480.8" cy="196.0" r="1.7" fill="#45c3d3" stroke="none" stroke-width="1"/>
<circle cx="489.0" cy="200.4" r="1.7" fill="#45c3d3" stroke="none" stroke-width="1"/>
<circle cx="497.2" cy="212.0" r="1.7" fill="#45c3d3" stroke="none" stroke-width="1"/>
<circle cx="505.4" cy="219.8" r="1.7" fill="#45c3d3" stroke="none" stroke-width="1"/>
<polyline points="415.4,199.0 423.6,209.8 431.8,215.1 439.9,207.5 448.1,216.4 456.3,217.7 464.5,219.2 472.7,225.5 480.8,227.7 489.0,230.0 497.2,241.9 505.4,247.9" fill="none" stroke="#68d24a" stroke-width="1"/>
<circle cx="415.4" cy="199.0" r="1.7" fill="#68d24a" stroke="none" stroke-width="1"/>
<circle cx="423.6" cy="209.8" r="1.7" fill="#68d24a" stroke="none" stroke-width="1"/>
<circle cx="431.8" cy="215.1" r="1.7" fill="#68d24a" stroke="none" stroke-width="1"/>
<circle cx="439.9" cy="207.5" r="1.7" fill="#68d24a" stroke="none" stroke-width="1"/>
<circle cx="448.1" cy="216.4" r="1.7" fill="#68d24a" stroke="none" stroke-width="1"/>
<circle cx="456.3" cy="217.7" r="1.7" fill="#68d24a" stroke="none" stroke-width="1"/>
<circle cx="464.5" cy="219.2" r="1.7" fill="#68d24a" stroke="none" stroke-width="1"/>
<circle cx="472.7" cy="225.5" r="1.7" fill="#68d24a" stroke="none" stroke-width="1"/>
<circle cx="480.8" cy="227.7" r="1.7" fill="#68d24a" stroke="none" stroke-width="1"/>
<circle cx="489.0" cy="230.0" r="1.7" fill="#68d24a" stroke="none" stroke-width="1"/>
<circle cx="497.2" cy="241.9" r="1.7" fill="#68d24a" stroke="none" stroke-width="1"/>
<circle cx="505.4" cy="247.9" r="1.7" fill="#68d24a" stroke="none" stroke-width="1"/>
<polyline points="415.4,196.6 423.6,205.5 431.8,207.0 439.9,203.6 448.1,209.8 456.3,215.1 464.5,216.4 472.7,222.5 480.8,221.7 489.0,225.3 497.2,237.5 505.4,245.1" fill="none" stroke="#c6b82a" stroke-width="1"/>
<circle cx="415.4" cy="196.6" r="1.7" fill="#c6b82a" stroke="none" stroke-width="1"/>
<circle cx="423.6" cy="205.5" r="1.7" fill="#c6b82a" stroke="none" stroke-width="1"/>
<circle cx="431.8" cy="207.0" r="1.7" fill="#c6b82a" stroke="none" stroke-width="1"/>
<circle cx="439.9" cy="203.6" r="1.7" fill="#c6b82a" stroke="none" stroke-width="1"/>
<circle cx="448.1" cy="209.8" r="1.7" fill="#c6b82a" stroke="none" stroke-width="1"/>
<circle cx="456.3" cy="215.1" r="1.7" fill="#c6b82a" stroke="none" stroke-width="1"/>
<circle cx="464.5" cy="216.4" r="1.7" fill="#c6b82a" stroke="none" stroke-width="1"/>
<circle cx="472.7" cy="222.5" r="1.7" fill="#c6b82a" stroke="none" stroke-width="1"/>
<circle cx="480.8" cy="221.7" r="1.7" fill="#c6b82a" stroke="none" stroke-width="1"/>
<circle cx="489.0" cy="225.3" r="1.7" fill="#c6b82a" stroke="none" stroke-width="1"/>
<circle cx="497.2" cy="237.5" r="1.7" fill="#c6b82a" stroke="none" stroke-width="1"/>
<circle cx="505.4" cy="245.1" r="1.7" fill="#c6b82a" stroke="none" stroke-width="1"/>
<polyline points="415.4,165.5 423.6,174.0 431.8,175.5 439.9,174.0 448.1,179.6 456.3,184.3 464.5,188.1 472.7,194.2 480.8,194.7 489.0,199.0 497.2,212.6 505.4,219.8" fill="none" stroke="#d5621e" stroke-width="1"/>
<circle cx="415.4" cy="165.5" r="1.7" fill="#d5621e" stroke="none" stroke-width="1"/>
<circle cx="423.6" cy="174.0" r="1.7" fill="#d5621e" stroke="none" stroke-width="1"/>
<circle cx="431.8" cy="175.5" r="1.7" fill="#d5621e" stroke="none" stroke-width="1"/>
<circle cx="439.9" cy="174.0" r="1.7" fill="#d5621e" stroke="none" stroke-width="1"/>
<circle cx="448.1" cy="179.6" r="1.7" fill="#d5621e" stroke="none" stroke-width="1"/>
<circle cx="456.3" cy="184.3" r="1.7" fill="#d5621e" stroke="none" stroke-width="1"/>
<circle cx="464.5" cy="188.1" r="1.7" fill="#d5621e" stroke="none" stroke-width="1"/>
<circle cx="472.7" cy="194.2" r="1.7" fill="#d5621e" stroke="none" stroke-width="1"/>
<circle cx="480.8" cy="194.7" r="1.7" fill="#d5621e" stroke="none" stroke-width="1"/>
<circle cx="489.0" cy="199.0" r="1.7" fill="#d5621e" stroke="none" stroke-width="1"/>
<circle cx="497.2" cy="212.6" r="1.7" fill="#d5621e" stroke="none" stroke-width="1"/>
<circle cx="505.4" cy="219.8" r="1.7" fill="#d5621e" stroke="none" stroke-width="1"/>
<polyline points="415.4,151.3 423.6,159.8 431.8,161.3 439.9,161.3 448.1,166.4 456.3,170.2 464.5,175.5 472.7,181.5 480.8,180.6 489.0,185.3 497.2,199.0 505.4,207.4" fill="none" stroke="#c42128" stroke-width="1"/>
<circle cx="415.4" cy="151.3" r="1.7" fill="#c42128" stroke="none" stroke-width="1"/>
<circle cx="423.6" cy="159.8" r="1.7" fill="#c42128" stroke="none" stroke-width="1"/>
<circle cx="431.8" cy="161.3" r="1.7" fill="#c42128" stroke="none" stroke-width="1"/>
<circle cx="439.9" cy="161.3" r="1.7" fill="#c42128" stroke="none" stroke-width="1"/>
<circle cx="448.1" cy="166.4" r="1.7" fill="#c42128" stroke="none" stroke-width="1"/>
<circle cx="456.3" cy="170.2" r="1.7" fill="#c42128" stroke="none" stroke-width="1"/>
<circle cx="464.5" cy="175.5" r="1.7" fill="#c42128" stroke="none" stroke-width="1"/>
<circle cx="472.7" cy="181.5" r="1.7" fill="#c42128" stroke="none" stroke-width="1"/>
<circle cx="480.8" cy="180.6" r="1.7" fill="#c42128" stroke="none" stroke-width="1"/>
<circle cx="489.0" cy="185.3" r="1.7" fill="#c42128" stroke="none" stroke-width="1"/>
<circle cx="497.2" cy="199.0" r="1.7" fill="#c42128" stroke="none" stroke-width="1"/>
<circle cx="505.4" cy="207.4" r="1.7" fill="#c42128" stroke="none" stroke-width="1"/>
<rect x="529.2" y="143.7" width="105.69999999999993" height="107.20000000000002" fill="none" stroke="#444" stroke-width="1"/>
<line x1="541.3961538461539" y1="250.9" x2="541.3961538461539" y2="248.9" stroke="#444" stroke-width="1" />
<line x1="541.3961538461539" y1="143.7" x2="541.3961538461539" y2="145.7" stroke="#444" stroke-width="1" />
<line x1="582.05" y1="250.9" x2="582.05" y2="248.9" stroke="#444" stroke-width="1" />
<line x1="582.05" y1="143.7" x2="582.05" y2="145.7" stroke="#444" stroke-width="1" />
<line x1="622.703846153846" y1="250.9" x2="622.703846153846" y2="248.9" stroke="#444" stroke-width="1" />
<line x1="622.703846153846" y1="143.7" x2="622.703846153846" y2="145.7" stroke="#444" stroke-width="1" />
<line x1="529.2" y1="250.9" x2="531.2" y2="250.9" stroke="#444" stroke-width="1" />
<line x1="634.9" y1="250.9" x2="632.9" y2="250.9" stroke="#444" stroke-width="1" />
<line x1="529.2" y1="220.27142857142857" x2="531.2" y2="220.27142857142857" stroke="#444" stroke-width="1" />
<line x1="634.9" y1="220.27142857142857" x2="632.9" y2="220.27142857142857" stroke="#444" stroke-width="1" />
<line x1="529.2" y1="189.64285714285714" x2="531.2" y2="189.64285714285714" stroke="#444" stroke-width="1" />
<line x1="634.9" y1="189.64285714285714" x2="632.9" y2="189.64285714285714" stroke="#444" stroke-width="1" />
<line x1="529.2" y1="159.0142857142857" x2="531.2" y2="159.0142857142857" stroke="#444" stroke-width="1" />
<line x1="634.9" y1="159.0142857142857" x2="632.9" y2="159.0142857142857" stroke="#444" stroke-width="1" />
<text x="558.6" y="156.29999999999998" font-size="11.1" text-anchor="start" fill="#262626" stroke="#262626" stroke-width="0.12" font-weight="normal" font-style="normal" >(iv) Biomotion</text>
<line x1="541.6" y1="204.7" x2="622.3" y2="235.8" stroke="#b0b0b0" stroke-width="4.2" />
<text x="539.7" y="233.8" font-size="10.8" fill="#808080"><tspan font-style="italic">m</tspan>=−0.51</text>
<text x="543.5" y="246.1" font-size="10.8" fill="#808080"><tspan font-style="italic">p</tspan>&lt;10<tspan font-size="6.4" dy="-3.6">−21</tspan></text>
<polyline points="537.3,161.0 545.5,168.0 553.7,190.6 561.8,181.0 570.0,185.8 578.2,182.5 586.4,190.4 594.6,188.9 602.7,192.3 610.9,200.2 619.1,210.6 627.3,210.2" fill="none" stroke="#2f67c3" stroke-width="1"/>
<circle cx="537.3" cy="161.0" r="1.7" fill="#2f67c3" stroke="none" stroke-width="1"/>
<circle cx="545.5" cy="168.0" r="1.7" fill="#2f67c3" stroke="none" stroke-width="1"/>
<circle cx="553.7" cy="190.6" r="1.7" fill="#2f67c3" stroke="none" stroke-width="1"/>
<circle cx="561.8" cy="181.0" r="1.7" fill="#2f67c3" stroke="none" stroke-width="1"/>
<circle cx="570.0" cy="185.8" r="1.7" fill="#2f67c3" stroke="none" stroke-width="1"/>
<circle cx="578.2" cy="182.5" r="1.7" fill="#2f67c3" stroke="none" stroke-width="1"/>
<circle cx="586.4" cy="190.4" r="1.7" fill="#2f67c3" stroke="none" stroke-width="1"/>
<circle cx="594.6" cy="188.9" r="1.7" fill="#2f67c3" stroke="none" stroke-width="1"/>
<circle cx="602.7" cy="192.3" r="1.7" fill="#2f67c3" stroke="none" stroke-width="1"/>
<circle cx="610.9" cy="200.2" r="1.7" fill="#2f67c3" stroke="none" stroke-width="1"/>
<circle cx="619.1" cy="210.6" r="1.7" fill="#2f67c3" stroke="none" stroke-width="1"/>
<circle cx="627.3" cy="210.2" r="1.7" fill="#2f67c3" stroke="none" stroke-width="1"/>
<polyline points="537.3,167.6 545.5,172.5 553.7,193.0 561.8,189.3 570.0,191.7 578.2,186.0 586.4,191.0 594.6,192.0 602.7,193.0 610.9,201.0 619.1,213.4 627.3,213.0" fill="none" stroke="#45c3d3" stroke-width="1"/>
<circle cx="537.3" cy="167.6" r="1.7" fill="#45c3d3" stroke="none" stroke-width="1"/>
<circle cx="545.5" cy="172.5" r="1.7" fill="#45c3d3" stroke="none" stroke-width="1"/>
<circle cx="553.7" cy="193.0" r="1.7" fill="#45c3d3" stroke="none" stroke-width="1"/>
<circle cx="561.8" cy="189.3" r="1.7" fill="#45c3d3" stroke="none" stroke-width="1"/>
<circle cx="570.0" cy="191.7" r="1.7" fill="#45c3d3" stroke="none" stroke-width="1"/>
<circle cx="578.2" cy="186.0" r="1.7" fill="#45c3d3" stroke="none" stroke-width="1"/>
<circle cx="586.4" cy="191.0" r="1.7" fill="#45c3d3" stroke="none" stroke-width="1"/>
<circle cx="594.6" cy="192.0" r="1.7" fill="#45c3d3" stroke="none" stroke-width="1"/>
<circle cx="602.7" cy="193.0" r="1.7" fill="#45c3d3" stroke="none" stroke-width="1"/>
<circle cx="610.9" cy="201.0" r="1.7" fill="#45c3d3" stroke="none" stroke-width="1"/>
<circle cx="619.1" cy="213.4" r="1.7" fill="#45c3d3" stroke="none" stroke-width="1"/>
<circle cx="627.3" cy="213.0" r="1.7" fill="#45c3d3" stroke="none" stroke-width="1"/>
<polyline points="537.3,170.1 545.5,176.0 553.7,195.6 561.8,189.0 570.0,190.5 578.2,190.8 586.4,189.0 594.6,192.3 602.7,193.0 610.9,201.0 619.1,218.1 627.3,213.0" fill="none" stroke="#68d24a" stroke-width="1"/>
<circle cx="537.3" cy="170.1" r="1.7" fill="#68d24a" stroke="none" stroke-width="1"/>
<circle cx="545.5" cy="176.0" r="1.7" fill="#68d24a" stroke="none" stroke-width="1"/>
<circle cx="553.7" cy="195.6" r="1.7" fill="#68d24a" stroke="none" stroke-width="1"/>
<circle cx="561.8" cy="189.0" r="1.7" fill="#68d24a" stroke="none" stroke-width="1"/>
<circle cx="570.0" cy="190.5" r="1.7" fill="#68d24a" stroke="none" stroke-width="1"/>
<circle cx="578.2" cy="190.8" r="1.7" fill="#68d24a" stroke="none" stroke-width="1"/>
<circle cx="586.4" cy="189.0" r="1.7" fill="#68d24a" stroke="none" stroke-width="1"/>
<circle cx="594.6" cy="192.3" r="1.7" fill="#68d24a" stroke="none" stroke-width="1"/>
<circle cx="602.7" cy="193.0" r="1.7" fill="#68d24a" stroke="none" stroke-width="1"/>
<circle cx="610.9" cy="201.0" r="1.7" fill="#68d24a" stroke="none" stroke-width="1"/>
<circle cx="619.1" cy="218.1" r="1.7" fill="#68d24a" stroke="none" stroke-width="1"/>
<circle cx="627.3" cy="213.0" r="1.7" fill="#68d24a" stroke="none" stroke-width="1"/>
<polyline points="537.3,173.3 545.5,173.3 553.7,193.7 561.8,187.7 570.0,189.3 578.2,189.4 586.4,189.0 594.6,192.0 602.7,193.0 610.9,201.0 619.1,215.3 627.3,211.1" fill="none" stroke="#c6b82a" stroke-width="1"/>
<circle cx="537.3" cy="173.3" r="1.7" fill="#c6b82a" stroke="none" stroke-width="1"/>
<circle cx="545.5" cy="173.3" r="1.7" fill="#c6b82a" stroke="none" stroke-width="1"/>
<circle cx="553.7" cy="193.7" r="1.7" fill="#c6b82a" stroke="none" stroke-width="1"/>
<circle cx="561.8" cy="187.7" r="1.7" fill="#c6b82a" stroke="none" stroke-width="1"/>
<circle cx="570.0" cy="189.3" r="1.7" fill="#c6b82a" stroke="none" stroke-width="1"/>
<circle cx="578.2" cy="189.4" r="1.7" fill="#c6b82a" stroke="none" stroke-width="1"/>
<circle cx="586.4" cy="189.0" r="1.7" fill="#c6b82a" stroke="none" stroke-width="1"/>
<circle cx="594.6" cy="192.0" r="1.7" fill="#c6b82a" stroke="none" stroke-width="1"/>
<circle cx="602.7" cy="193.0" r="1.7" fill="#c6b82a" stroke="none" stroke-width="1"/>
<circle cx="610.9" cy="201.0" r="1.7" fill="#c6b82a" stroke="none" stroke-width="1"/>
<circle cx="619.1" cy="215.3" r="1.7" fill="#c6b82a" stroke="none" stroke-width="1"/>
<circle cx="627.3" cy="211.1" r="1.7" fill="#c6b82a" stroke="none" stroke-width="1"/>
<polyline points="537.3,172.0 545.5,173.3 553.7,199.0 561.8,191.7 570.0,192.5 578.2,187.9 586.4,195.5 594.6,193.6 602.7,193.5 610.9,202.5 619.1,211.9 627.3,207.7" fill="none" stroke="#d5621e" stroke-width="1"/>
<circle cx="537.3" cy="172.0" r="1.7" fill="#d5621e" stroke="none" stroke-width="1"/>
<circle cx="545.5" cy="173.3" r="1.7" fill="#d5621e" stroke="none" stroke-width="1"/>
<circle cx="553.7" cy="199.0" r="1.7" fill="#d5621e" stroke="none" stroke-width="1"/>
<circle cx="561.8" cy="191.7" r="1.7" fill="#d5621e" stroke="none" stroke-width="1"/>
<circle cx="570.0" cy="192.5" r="1.7" fill="#d5621e" stroke="none" stroke-width="1"/>
<circle cx="578.2" cy="187.9" r="1.7" fill="#d5621e" stroke="none" stroke-width="1"/>
<circle cx="586.4" cy="195.5" r="1.7" fill="#d5621e" stroke="none" stroke-width="1"/>
<circle cx="594.6" cy="193.6" r="1.7" fill="#d5621e" stroke="none" stroke-width="1"/>
<circle cx="602.7" cy="193.5" r="1.7" fill="#d5621e" stroke="none" stroke-width="1"/>
<circle cx="610.9" cy="202.5" r="1.7" fill="#d5621e" stroke="none" stroke-width="1"/>
<circle cx="619.1" cy="211.9" r="1.7" fill="#d5621e" stroke="none" stroke-width="1"/>
<circle cx="627.3" cy="207.7" r="1.7" fill="#d5621e" stroke="none" stroke-width="1"/>
<polyline points="537.3,165.4 545.5,168.1 553.7,188.5 561.8,181.4 570.0,195.6 578.2,184.6 586.4,193.6 594.6,193.6 602.7,192.6 610.9,197.9 619.1,206.4 627.3,204.0" fill="none" stroke="#c42128" stroke-width="1"/>
<circle cx="537.3" cy="165.4" r="1.7" fill="#c42128" stroke="none" stroke-width="1"/>
<circle cx="545.5" cy="168.1" r="1.7" fill="#c42128" stroke="none" stroke-width="1"/>
<circle cx="553.7" cy="188.5" r="1.7" fill="#c42128" stroke="none" stroke-width="1"/>
<circle cx="561.8" cy="181.4" r="1.7" fill="#c42128" stroke="none" stroke-width="1"/>
<circle cx="570.0" cy="195.6" r="1.7" fill="#c42128" stroke="none" stroke-width="1"/>
<circle cx="578.2" cy="184.6" r="1.7" fill="#c42128" stroke="none" stroke-width="1"/>
<circle cx="586.4" cy="193.6" r="1.7" fill="#c42128" stroke="none" stroke-width="1"/>
<circle cx="594.6" cy="193.6" r="1.7" fill="#c42128" stroke="none" stroke-width="1"/>
<circle cx="602.7" cy="192.6" r="1.7" fill="#c42128" stroke="none" stroke-width="1"/>
<circle cx="610.9" cy="197.9" r="1.7" fill="#c42128" stroke="none" stroke-width="1"/>
<circle cx="619.1" cy="206.4" r="1.7" fill="#c42128" stroke="none" stroke-width="1"/>
<circle cx="627.3" cy="204.0" r="1.7" fill="#c42128" stroke="none" stroke-width="1"/>
<text x="418.61923076923074" y="267.9" font-size="12.3" text-anchor="middle" fill="#262626" stroke="#262626" stroke-width="0.12" font-weight="normal" font-style="normal" >-1</text>
<text x="461.24999999999994" y="267.9" font-size="12.3" text-anchor="middle" fill="#262626" stroke="#262626" stroke-width="0.12" font-weight="normal" font-style="normal" >0</text>
<text x="501.98076923076917" y="267.9" font-size="12.3" text-anchor="middle" fill="#262626" stroke="#262626" stroke-width="0.12" font-weight="normal" font-style="normal" >1</text>
<text x="540.4192307692308" y="267.9" font-size="12.3" text-anchor="middle" fill="#262626" stroke="#262626" stroke-width="0.12" font-weight="normal" font-style="normal" >-1</text>
<text x="583.0500000000001" y="267.9" font-size="12.3" text-anchor="middle" fill="#262626" stroke="#262626" stroke-width="0.12" font-weight="normal" font-style="normal" >0</text>
<text x="623.7807692307694" y="267.9" font-size="12.3" text-anchor="middle" fill="#262626" stroke="#262626" stroke-width="0.12" font-weight="normal" font-style="normal" >1</text>
<text x="474.6" y="284" font-size="11.1" fill="#262626" stroke="#262626" stroke-width="0.12">Log<tspan font-size="6.8" dy="2.5">10</tspan><tspan dy="-2.5"> Frequency (Hz)</tspan></text>
<text transform="translate(376.6,141.8) rotate(-90)" font-size="11.2" text-anchor="middle" fill="#262626" stroke="#262626" stroke-width="0.12">Log<tspan font-size="6.8" dy="2.5">10</tspan><tspan dy="-2.5"> Power spectral density</tspan></text>
<text x="646.8" y="88.2" font-size="12" text-anchor="start" fill="#2f67c3" stroke="#2f67c3" stroke-width="0.12" font-weight="normal" font-style="normal" >p1</text>
<text x="646.8" y="105.35" font-size="12" text-anchor="start" fill="#45c3d3" stroke="#45c3d3" stroke-width="0.12" font-weight="normal" font-style="normal" >p2</text>
<text x="646.8" y="122.5" font-size="12" text-anchor="start" fill="#68d24a" stroke="#68d24a" stroke-width="0.12" font-weight="normal" font-style="normal" >p3</text>
<text x="646.8" y="139.65" font-size="12" text-anchor="start" fill="#c6b82a" stroke="#c6b82a" stroke-width="0.12" font-weight="normal" font-style="normal" >p4</text>
<text x="646.8" y="156.8" font-size="12" text-anchor="start" fill="#d5621e" stroke="#d5621e" stroke-width="0.12" font-weight="normal" font-style="normal" >p5</text>
<text x="646.8" y="173.95" font-size="12" text-anchor="start" fill="#c42128" stroke="#c42128" stroke-width="0.12" font-weight="normal" font-style="normal" >p6</text>
</svg></body></html>
